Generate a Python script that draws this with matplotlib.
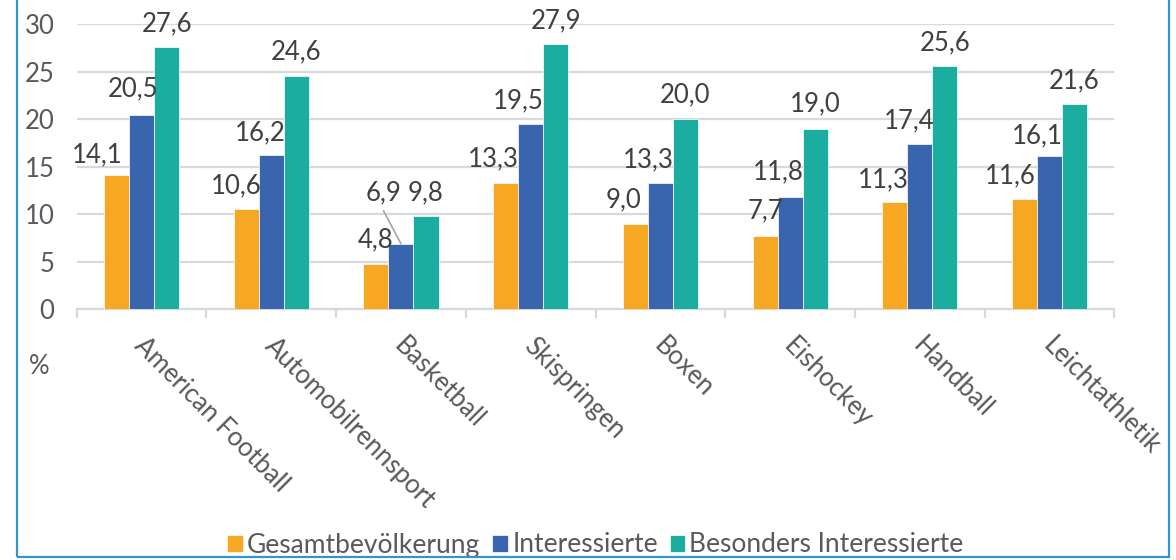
import matplotlib as mpl
mpl.use('Agg')
import matplotlib.pyplot as plt
from matplotlib.patches import Rectangle
import numpy as np

plt.rcParams['font.family'] = ['Lato', 'DejaVu Sans']

# Anteil in Prozent je Sportart
sports = ['American Football', 'Automobilrennsport', 'Basketball', 'Skispringen',
          'Boxen', 'Eishockey', 'Handball', 'Leichtathletik']
gesamt = [14.1, 10.6, 4.8, 13.3, 9.0, 7.7, 11.3, 11.6]
interessierte = [20.5, 16.2, 6.9, 19.5, 13.3, 11.8, 17.4, 16.1]
besonders = [27.6, 24.6, 9.8, 27.9, 20.0, 19.0, 25.6, 21.6]
series_names = ['Gesamtbevölkerung', 'Interessierte', 'Besonders Interessierte']
yticks = [0, 5, 10, 15, 20, 25, 30]

colors = ['#F6A823', '#3964AE', '#1BAEA0']
text_dark = '#404040'
text_grey = '#595959'
grid_col = '#D9D9D9'
fs = 18.5

# label offsets in pixels (dx, baseline above bar top)
lab_dx = [[-19, -9.5, 0, -12, -11.5, 0, -11.5, -14],
          [-8, -11.5, -17.5, -12, -12, -11.5, -11, -12],
          [0, 0, 0, 0, 0, 0, 0, 0]]
lab_dy = [[13, 15, 16, 17, 16, 18, 15, 16],
          [18, 15, 43, 16, 16, 18, 16, 13],
          [16, 16, 16, 16, 17, 17, 16, 16]]

W, H = 1176, 560
fig = plt.figure(figsize=(W / 100, H / 100), dpi=100)
ax_l, ax_r, ax_b, ax_t = 76.7, 1114.4, 309.3, 24.3
ax = fig.add_axes([ax_l / W, 1 - ax_b / H, (ax_r - ax_l) / W, (ax_b - ax_t) / H])

x = np.arange(len(sports))
bw = 0.193
data = [gesamt, interessierte, besonders]
for i, vals in enumerate(data):
    pos = x + (i - 1) * bw
    ax.bar(pos, vals, width=bw, color=colors[i], edgecolor='white',
           linewidth=0.5, label=series_names[i], zorder=3)
    for j, v in enumerate(vals):
        ax.annotate(('%.1f' % v).replace('.', ','), (pos[j], v),
                    xytext=(lab_dx[i][j], lab_dy[i][j]), textcoords='offset pixels',
                    ha='center', va='baseline', fontsize=fs, color=text_dark,
                    annotation_clip=False, zorder=5)

# leader line for the Basketball label
bi = sports.index('Basketball')
ax.annotate('', xy=(x[bi], interessierte[bi]), xytext=(-17.5, 33),
            textcoords='offset pixels',
            arrowprops=dict(arrowstyle='-', color='#A6A6A6', lw=1.2,
                            shrinkA=0, shrinkB=0))

ax.set_xlim(-0.5, len(sports) - 0.5)
ax.set_ylim(0, 30)
ax.set_yticks(yticks)
ax.yaxis.grid(True, color=grid_col, linewidth=1.6, zorder=0)
ax.set_axisbelow(True)
for s in ['top', 'right', 'left']:
    ax.spines[s].set_visible(False)
ax.spines['bottom'].set_color(grid_col)
ax.spines['bottom'].set_linewidth(1.6)
ax.tick_params(axis='y', length=0, pad=16, labelsize=fs, labelcolor=text_grey)
ax.set_xticks(np.arange(len(sports) + 1) - 0.5, minor=False)
ax.set_xticklabels([])
ax.tick_params(axis='x', length=6.5, width=1.6, color=grid_col, direction='out')

for j, name in enumerate(sports):
    ax.annotate(name, (x[j], 0), xytext=(6, -24), textcoords='offset pixels',
                rotation=-45, rotation_mode='anchor', ha='left', va='top',
                fontsize=fs, color=text_grey, annotation_clip=False)

fig.text(39 / W, 1 - 367 / H, '%', ha='center', va='center',
         fontsize=fs, color=text_grey)

leg = ax.legend(loc='center', bbox_to_anchor=(0.5, (ax_b - 545) / (ax_b - ax_t)),
                ncol=3, frameon=False, fontsize=19, handlelength=0.6,
                handleheight=0.6, handletextpad=0.15, columnspacing=0.45,
                borderaxespad=0)
for t in leg.get_texts():
    t.set_color(text_grey)

# outer frame
fig.patches.append(Rectangle((16.7 / W, 1 - 556.7 / H), (1169 - 16.7) / W, 1.1,
                             transform=fig.transFigure, fill=False,
                             edgecolor='#2F96D3', linewidth=1.6))

fig.savefig('out.png', dpi=100)
